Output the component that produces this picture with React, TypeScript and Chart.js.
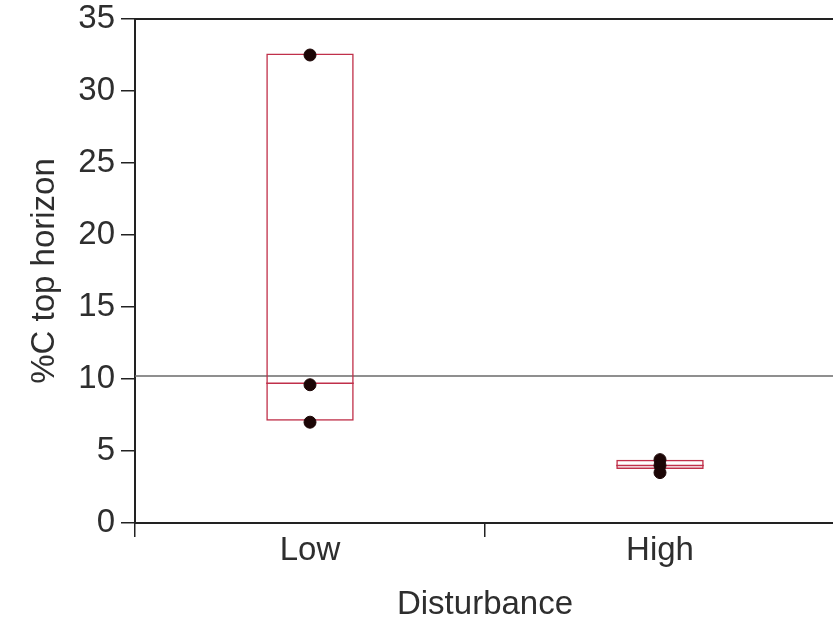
import React, { useEffect, useRef } from "react";
import { Chart, registerables } from "chart.js";

Chart.register(...registerables);

const categories = ["Low", "High"];
const lowValues = [32.5, 9.6, 7.0];
const highValues = [4.4, 4.0, 3.5];
const boxBottom = [7.1, 3.75];
const boxTop = [32.6, 4.4];
const medians = [9.7, 4.0];
const grandMean = 10.2;
const yTicks = [0, 5, 10, 15, 20, 25, 30, 35];

const FONT = "'Liberation Sans', Arial, sans-serif";
const TEXT = "#2e2e2e";
const BOX = "#c0304a";
const FS = 33;

const overlay = {
  id: "overlay",
  beforeDatasetsDraw(chart: any) {
    const { ctx, chartArea, scales } = chart;
    const y = scales.y.getPixelForValue(grandMean);
    ctx.save();
    ctx.strokeStyle = "#6a6a6a";
    ctx.lineWidth = 1.5;
    ctx.beginPath();
    ctx.moveTo(chartArea.left, y);
    ctx.lineTo(chartArea.right, y);
    ctx.stroke();
    ctx.strokeStyle = "#222";
    ctx.lineWidth = 2;
    ctx.beginPath();
    ctx.moveTo(chartArea.left, chartArea.top);
    ctx.lineTo(chartArea.right, chartArea.top);
    ctx.stroke();
    ctx.restore();
  },
  afterDatasetDraw(chart: any, args: any) {
    if (args.index !== 0) return;
    const { ctx, scales } = chart;
    const meta = chart.getDatasetMeta(0);
    ctx.save();
    ctx.strokeStyle = BOX;
    ctx.lineWidth = 1.5;
    meta.data.forEach((bar: any, i: number) => {
      const y = scales.y.getPixelForValue(medians[i]);
      ctx.beginPath();
      ctx.moveTo(bar.x - bar.width / 2, y);
      ctx.lineTo(bar.x + bar.width / 2, y);
      ctx.stroke();
    });
    ctx.restore();
  },
};

export default function App() {
  const ref = useRef<HTMLCanvasElement>(null);
  useEffect(() => {
    if (!ref.current) return;
    const points = [
      ...lowValues.map((v) => ({ x: categories[0], y: v })),
      ...highValues.map((v) => ({ x: categories[1], y: v })),
    ];
    const chart = new Chart(ref.current, {
      type: "bar",
      data: {
        labels: categories,
        datasets: [
          {
            type: "bar",
            data: categories.map((_, i) => [boxBottom[i], boxTop[i]]),
            backgroundColor: "rgba(0,0,0,0)",
            borderColor: BOX,
            borderWidth: 1.5,
            borderSkipped: false,
            barPercentage: 1,
            categoryPercentage: 0.25,
            order: 2,
          } as any,
          {
            type: "scatter",
            data: points as any,
            backgroundColor: "#1c0606",
            borderColor: "#1c0606",
            pointRadius: 6,
            order: 1,
          } as any,
        ],
      },
      options: {
        responsive: false,
        animation: false,
        layout: { padding: { top: 19, left: 0, right: 0, bottom: 0 } },
        plugins: { legend: { display: false }, tooltip: { enabled: false } },
        scales: {
          x: {
            type: "category",
            offset: true,
            grid: {
              offset: true,
              drawOnChartArea: false,
              tickLength: 14,
              color: "#222",
              lineWidth: 1.5,
            },
            border: { color: "#222", width: 2 },
            ticks: {
              color: TEXT,
              font: { family: FONT, size: FS, lineHeight: 1 },
              padding: -3,
            },
            title: {
              display: true,
              text: "Disturbance",
              color: TEXT,
              font: { family: FONT, size: FS },
              padding: { top: 4, bottom: 1 },
            },
            afterFit(scale: any) {
              scale.height = 103;
              scale.paddingLeft = 0;
              scale.paddingRight = 0;
            },
          },
          y: {
            min: 0,
            max: 35,
            afterBuildTicks(scale: any) {
              scale.ticks = yTicks.map((v) => ({ value: v }));
            },
            grid: {
              drawOnChartArea: false,
              tickLength: 14,
              color: "#222",
              lineWidth: 1.5,
            },
            border: { color: "#222", width: 2 },
            ticks: {
              color: TEXT,
              font: { family: FONT, size: FS, lineHeight: 1 },
              padding: 6,
            },
            title: {
              display: true,
              text: "%C top horizon",
              color: TEXT,
              font: { family: FONT, size: FS },
              padding: { top: 25, bottom: 4 },
            },
            afterFit(scale: any) {
              scale.width = 135;
              scale.paddingTop = 0;
              scale.paddingBottom = 0;
            },
          },
        },
      },
      plugins: [overlay],
    });
    return () => chart.destroy();
  }, []);
  return (
    <div
      style={{
        position: "fixed",
        left: 0,
        top: 0,
        width: 833,
        height: 626,
        overflow: "hidden",
        background: "#fff",
      }}
    >
      <canvas ref={ref} width={842} height={626} style={{ display: "block" }} />
    </div>
  );
}
